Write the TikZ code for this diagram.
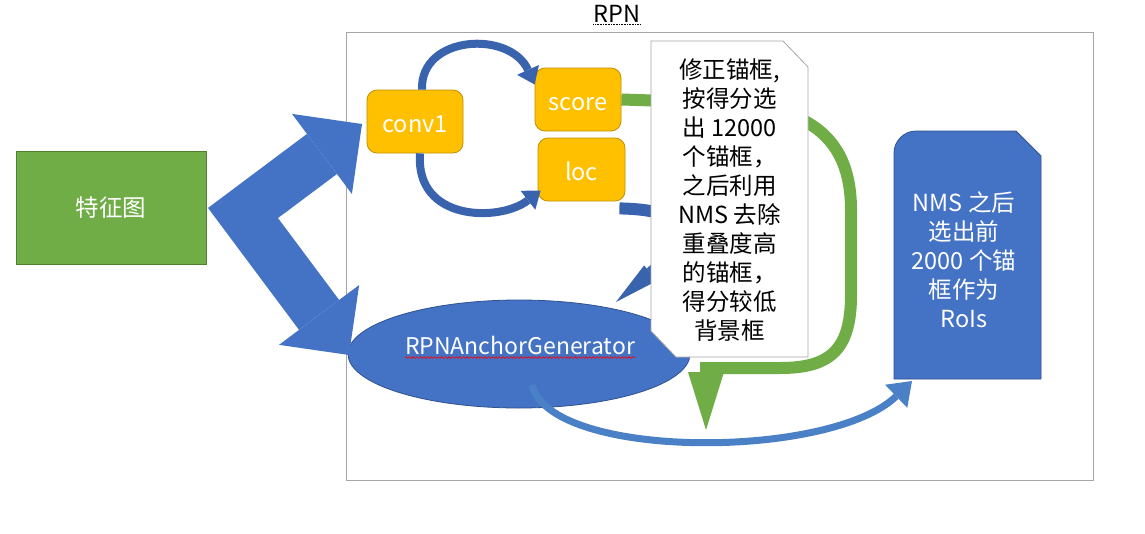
\documentclass[tikz,border=0pt]{standalone}
\usepackage{fontspec}
\usepackage{tikz}
\usetikzlibrary{arrows.meta,shapes.geometric,decorations.pathmorphing}
\newfontfamily\cjk{Noto Sans CJK SC}
\definecolor{featgreen}{HTML}{70AD47}
\definecolor{featedge}{HTML}{507E32}
\definecolor{boxorange}{HTML}{FFC000}
\definecolor{boxedge}{HTML}{BF9000}
\definecolor{mainblue}{HTML}{4472C4}
\definecolor{blueedge}{HTML}{2F528F}
\definecolor{arcblue}{HTML}{3A63AE}
\definecolor{lowblue}{HTML}{4A80C6}
\definecolor{framegray}{HTML}{A6A6A6}
\tikzset{
  frame/.style={draw=framegray, line width=0.8pt, minimum width=747pt, minimum height=448pt, inner sep=0pt},
  lab/.style={text=black, inner sep=0pt, font=\cjk\fontsize{23.5pt}{29pt}\selectfont},
  wlab/.style={lab, text=white},
  featbox/.style={wlab, fill=featgreen, draw=featedge, line width=0.8pt, minimum width=190pt, minimum height=113pt},
  convbox/.style={wlab, fill=boxorange, draw=boxedge, line width=0.8pt, rounded corners=10pt, minimum height=63pt, text height=24pt, text depth=2pt},
  genell/.style={ellipse, fill=mainblue, draw=blueedge, line width=0.8pt, minimum width=342pt, minimum height=108pt, inner sep=0pt},
  notetext/.style={lab, align=center},
  roitext/.style={wlab, align=center},
  bigarrow/.style={draw=mainblue, line width=50pt, line join=miter, >={Triangle[length=50pt,width=100pt,line width=0pt]}, <->},
  curvearrow/.style={draw=arcblue, line width=8pt, -{Triangle[length=16pt,width=24pt,line width=0pt]}},
  greenarrow/.style={draw=featgreen, line width=12pt, line join=miter, -{Triangle[length=58pt,width=36pt,line width=0pt]}},
  basearrow/.style={draw=lowblue, line width=7pt, -{Triangle[length=22pt,width=32pt,line width=0pt]}},
  spellwave/.style={draw=red, line width=0.6pt, decorate, decoration={snake, amplitude=0.9pt, segment length=3.6pt}},
}
\begin{document}
\begin{tikzpicture}[x=1pt, y=-1pt]
  \fill[white] (0,0) rectangle (1145,533);
  \useasboundingbox (0,0) rectangle (1145,533);

  \node[frame] (rpn) at (719.5,256) {};
  \node[lab, anchor=base] (rpnlab) at (617,22) {RPN};
  \draw[densely dotted, line width=0.6pt] ([yshift=-2.5pt]rpnlab.base west) -- ([yshift=-2.5pt]rpnlab.base east);

  \node[featbox] (feat) at (111,207.5) {特征图};
  \node[genell] (gen) at (519,354) {};
  \node[convbox, minimum width=96pt] (conv1) at (415,121.5) {conv1};
  \node[convbox, minimum width=86pt] (score) at (578,99.5) {score};
  \node[convbox, minimum width=87pt] (loc) at (581.5,169.5) {loc};

  % feature map to conv1 and anchors
  \coordinate (bend) at (243,213);
  \coordinate (convtip) at (362,124);
  \coordinate (gentip) at (349,355);
  \draw[bigarrow] (convtip) -- (bend) -- (gentip);

  % conv1 to both heads
  \coordinate (conv1up) at ([xshift=7pt]conv1.north);
  \coordinate (conv1down) at ([xshift=5pt]conv1.south);
  \coordinate (scoretip) at ([yshift=15pt]score.west);
  \coordinate (loctip) at ([shift={(3pt,-21pt)}]loc.west);
  \draw[curvearrow] (conv1up) .. controls (420,35) and (510,30) .. (scoretip);
  \draw[curvearrow] (conv1down) .. controls (415,222) and (500,222) .. (loctip);

  % loc back to anchors
  \coordinate (locout) at ([shift={(-6pt,-7pt)}]loc.south east);
  \coordinate (gentop) at (616,302);
  \draw[curvearrow, line width=12pt, -{Triangle[length=45pt,width=20pt,line width=0pt]}] (locout)
    .. controls (700,210) and (690,240) .. (gentop);

  % score loop
  \coordinate (greentip) at (706,430);
  \draw[greenarrow] (score.east) -- (700,102) .. controls (800,102) and (851,130) .. (851,210)
    -- (851,295) .. controls (851,350) and (830,368) .. (780,368) -- (706,368) -- (greentip);

  \filldraw[fill=white, draw=framegray, line width=0.8pt] (651,41) -- (783,41) -- (808,67)
    -- (808,357) -- (676,357) -- (651,331) -- cycle;
  \node[notetext] (note) at (729.5,200) {修正锚框,\\按得分选\\出 12000\\个锚框，\\之后利用\\NMS 去除\\重叠度高\\的锚框，\\得分较低\\背景框};

  \filldraw[fill=mainblue, draw=blueedge, line width=0.8pt] (894,379) -- (894,153)
    .. controls (894,141) and (904,131) .. (916,131) -- (1016,131) -- (1041,156) -- (1041,379) -- cycle;
  \node[roitext] (roi) at (964,260) {NMS 之后\\选出前\\2000 个锚\\框作为\\RoIs};

  % anchors to RoIs
  \coordinate (genlow) at (532,385);
  \coordinate (roitip) at (912,381);
  \draw[basearrow] (genlow) .. controls (550,460) and (830,460) .. (roitip);

  \node[wlab, anchor=base, font=\cjk\fontsize{23pt}{29pt}\selectfont] (gentxt) at (520,354) {RPNAnchorGenerator};
  \draw[spellwave] ([yshift=-3.5pt]gentxt.base west) -- ([yshift=-3.5pt]gentxt.base east);
\end{tikzpicture}
\end{document}
